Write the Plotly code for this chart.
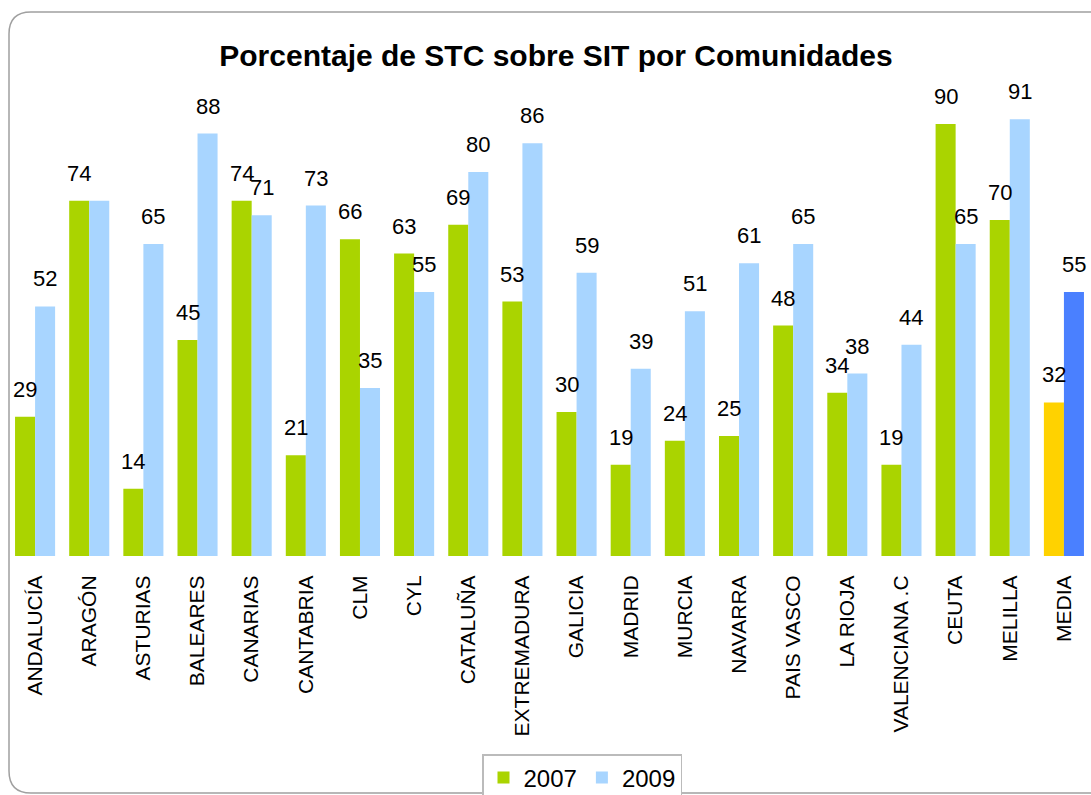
import plotly.graph_objects as go

REGIONS = ["ANDALUCÍA", "ARAGÓN", "ASTURIAS", "BALEARES", "CANARIAS", "CANTABRIA", "CLM", "CYL",
           "CATALUÑA", "EXTREMADURA", "GALICIA", "MADRID", "MURCIA", "NAVARRA", "PAIS VASCO",
           "LA RIOJA", "VALENCIANA .C", "CEUTA", "MELILLA", "MEDIA"]
V2007 = [29, 74, 14, 45, 74, 21, 66, 63, 69, 53, 30, 19, 24, 25, 48, 34, 19, 90, 70, 32]
V2009 = [52, 74, 65, 88, 71, 73, 35, 55, 80, 86, 59, 39, 51, 61, 65, 38, 44, 65, 91, 55]
# labels Excel left out because they overlapped
HIDDEN_2009 = ["ARAGÓN"]

GREEN = "#aad400"
LIGHT_BLUE = "#a8d5ff"
YELLOW = "#ffd200"
BLUE = "#4a80ff"
FONT = "Liberation Sans, Arial, sans-serif"

W, H = 1091, 795
L, R, T, B = 8, 0, 76, 239

c2007 = [YELLOW if r == "MEDIA" else GREEN for r in REGIONS]
c2009 = [BLUE if r == "MEDIA" else LIGHT_BLUE for r in REGIONS]

fig = go.Figure()
fig.add_trace(go.Bar(x=REGIONS, y=V2007, name="2007", marker=dict(color=c2007, line_width=0)))
fig.add_trace(go.Bar(x=REGIONS, y=V2009, name="2009", marker=dict(color=c2009, line_width=0)))

annots = []
for r, a, b in zip(REGIONS, V2007, V2009):
    annots.append(dict(x=r, y=a, text=str(a), xshift=-10, yshift=13, showarrow=False,
                       yanchor="bottom", font=dict(size=22, color="black", family=FONT)))
    if r not in HIDDEN_2009:
        annots.append(dict(x=r, y=b, text=str(b), xshift=10, yshift=13, showarrow=False,
                           yanchor="bottom", font=dict(size=22, color="black", family=FONT)))


# window pixels -> paper coords
def px(xp):
    return (xp - L) / (W - L - R)


def py(yp):
    return (H - B - yp) / (H - T - B)


rad = 22
x0, y0, x1, y1 = 9, 12, 1120, 793
path = (f"M {px(x1)},{py(y0)} L {px(x0 + rad)},{py(y0)} Q {px(x0)},{py(y0)} {px(x0)},{py(y0 + rad)} "
        f"L {px(x0)},{py(y1 - rad)} Q {px(x0)},{py(y1)} {px(x0 + rad)},{py(y1)} L {px(x1)},{py(y1)}")

fig.update_layout(
    width=W, height=H,
    # legend is meant to run off the bottom edge, so don't let it grow the margins
    margin=dict(l=L, r=R, t=T, b=B, autoexpand=False),
    paper_bgcolor="white", plot_bgcolor="white",
    barmode="group", bargap=0.26, bargroupgap=0,
    title=dict(text="<b>Porcentaje de STC sobre SIT por Comunidades</b>", x=556 / W, xanchor="center",
               y=1 - 55 / H, yanchor="middle", xref="container", yref="container",
               font=dict(size=30, color="black", family=FONT)),
    xaxis=dict(tickangle=-90, showline=False, showgrid=False, ticks="outside", ticklen=10,
               tickcolor="white", automargin=False, tickfont=dict(size=21, color="black", family=FONT)),
    yaxis=dict(range=[0, 100], visible=False, automargin=False),
    legend=dict(orientation="h", x=px(582), xanchor="center", y=py(754), yanchor="top",
                bordercolor="#bbbbbb", borderwidth=1.5, font=dict(size=24, color="black", family=FONT),
                itemwidth=30, tracegroupgap=0),
    annotations=annots,
    shapes=[dict(type="path", xref="paper", yref="paper", path=path,
                 line=dict(color="#a0a0a0", width=1.5))],
    showlegend=True,
)

# drop the default 8px body margin so the figure fills the window exactly
fig.write_html("out.html", config={"displayModeBar": False},
               post_script="document.body.style.margin='0';document.body.style.overflow='hidden';")
